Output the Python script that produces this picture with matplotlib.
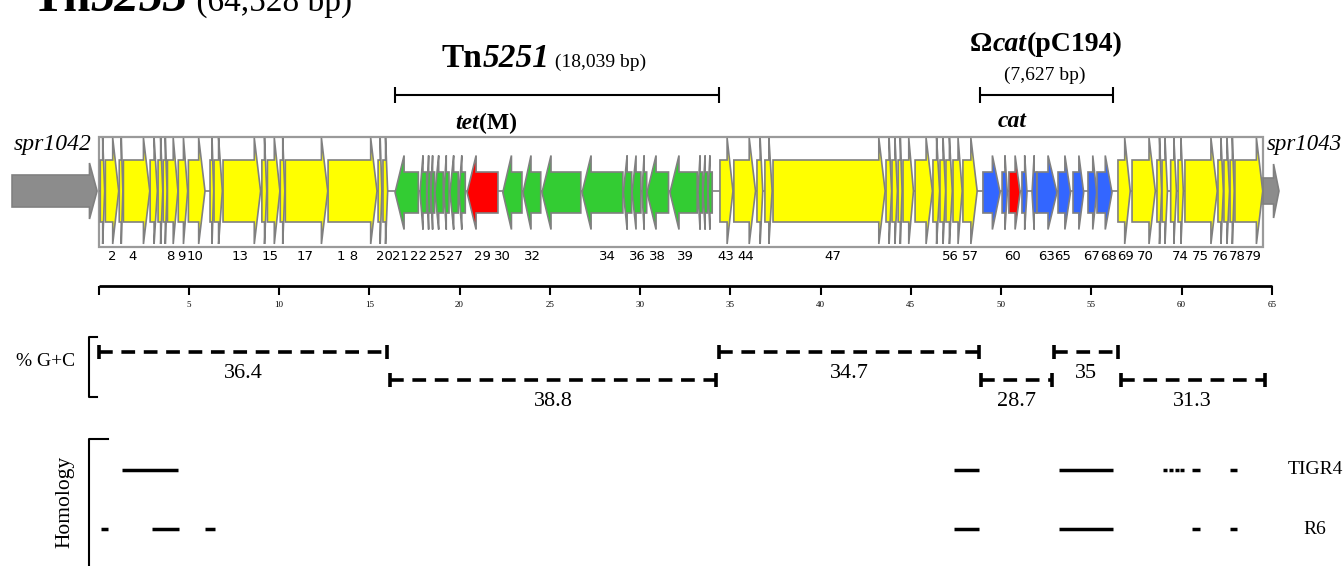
import matplotlib
matplotlib.use("Agg")
import matplotlib.pyplot as plt
from matplotlib.patches import Polygon, Rectangle

# ---- data (positions in kb along Tn5253) ----
tn_length = 64.528

gene_start = [0.10, 0.38, 1.15, 1.38, 2.86, 3.30, 3.58, 3.82, 4.42, 4.98,
              6.18, 6.40, 6.90, 9.05, 9.36, 10.07, 10.35, 12.72, 15.49, 15.76,
              16.43, 17.81, 18.20, 18.42, 18.64, 19.14, 19.47, 19.97, 20.42, 22.40,
              23.52, 24.57, 26.79, 29.08, 29.56, 30.11, 30.39, 31.66, 33.21, 33.49,
              33.77, 34.43, 35.20, 36.48, 36.92, 37.37, 43.63, 43.96, 44.30, 44.57,
              45.24, 46.23, 46.62, 46.95, 47.34, 47.89, 49.00, 50.06, 50.44, 51.16,
              51.72, 52.00, 53.16, 53.99, 54.82, 55.32, 56.48, 57.26, 58.64, 58.92,
              59.40, 59.81, 60.19, 62.02, 62.35, 62.69, 62.96]
gene_end = [0.34, 1.12, 1.35, 2.84, 3.26, 3.56, 3.80, 4.40, 4.94, 5.90,
            6.38, 6.86, 8.98, 9.32, 10.05, 10.32, 12.70, 15.43, 15.70, 16.02,
            17.72, 18.18, 18.40, 18.62, 19.10, 19.42, 19.93, 20.32, 22.13, 23.46,
            24.50, 26.72, 29.05, 29.54, 30.05, 30.37, 31.58, 33.17, 33.47, 33.75,
            34.00, 35.15, 36.40, 36.80, 37.32, 43.58, 43.94, 44.26, 44.52, 45.15,
            46.20, 46.60, 46.93, 47.30, 47.85, 48.68, 49.95, 50.35, 51.06, 51.44,
            51.98, 53.10, 53.85, 54.58, 55.30, 56.15, 57.16, 58.55, 58.90, 59.22,
            59.72, 60.10, 61.98, 62.32, 62.66, 62.92, 64.50]
gene_strand = [1] * 20 + [-1] * 21 + [1] * 15 + [1, 1, 1, 1, -1, 1, 1, 1, 1, 1] + [1] * 11
gene_group = (["core"] * 20 + ["tn5251"] * 8 + ["res"] + ["tn5251"] * 12
              + ["core"] * 15 + ["omega", "omega", "res"] + ["omega"] * 7 + ["core"] * 11)

label_text = ["2", "4", "8", "9", "10", "13", "15", "17", "1 8", "20", "21", "22", "25",
              "27", "29", "30", "32", "34", "36", "38", "39", "43", "44", "47", "56",
              "57", "60", "63", "65", "67", "68", "69", "70", "74", "75", "76", "78", "79"]
label_pos = [0.75, 1.91, 3.96, 4.57, 5.35, 7.84, 9.5, 11.44, 13.82, 15.82, 16.75, 17.75, 18.8,
             19.75, 21.25, 22.36, 24.07, 28.17, 29.83, 30.99, 32.5, 34.76, 35.87, 40.69, 47.17,
             48.28, 50.61, 52.55, 53.43, 55.0, 55.95, 56.9, 57.98, 59.92, 61.02, 62.13, 63.07, 63.96]

gc_start = [0.0, 16.15, 34.35, 48.9, 52.95, 56.65]
gc_end = [16.0, 34.2, 48.8, 52.85, 56.5, 64.6]
gc_value = ["36.4", "38.8", "34.7", "28.7", "35", "31.3"]
gc_row = [0, 1, 0, 1, 0, 1]

hom_strains = ["TIGR4", "R6"]
hom_tigr4 = [(1.3, 4.4), (47.4, 48.8), (53.2, 56.2), (58.98, 59.2), (59.3, 59.52),
             (59.62, 59.84), (59.94, 60.16), (60.58, 61.02), (62.69, 63.07)]
hom_r6 = [(0.14, 0.5), (2.96, 4.46), (5.9, 6.45), (47.4, 48.8), (53.2, 56.2),
          (60.58, 61.02), (62.69, 63.07)]

ruler_ticks = list(range(0, 66, 5))

# ---- figure ----
serif = "Liberation Serif"
narrow = ["Liberation Sans Narrow", "DejaVu Sans"]
fills = {"core": "#ffff00", "tn5251": "#33cc33", "res": "#ff0000", "omega": "#3366ff"}
edge = "#808080"

fig = plt.figure(figsize=(13.44, 5.66), dpi=100)
ax = fig.add_axes([0, 0, 1, 1])
pxkb = 18.05
x0 = -98.5 / pxkb
ax.set_xlim(x0, x0 + 1344 / pxkb)
ax.set_ylim(566, 0)
ax.axis("off")


def arrow(s, e, strand, yc, bh, hh, hl, fc):
    hl = min(hl, 0.45 * (e - s))
    if strand > 0:
        pts = [(s, yc - bh), (e - hl, yc - bh), (e - hl, yc - hh), (e, yc),
               (e - hl, yc + hh), (e - hl, yc + bh), (s, yc + bh)]
    else:
        pts = [(e, yc - bh), (s + hl, yc - bh), (s + hl, yc - hh), (s, yc),
               (s + hl, yc + hh), (s + hl, yc + bh), (e, yc + bh)]
    ax.add_patch(Polygon(pts, closed=True, fc=fc, ec=edge, lw=1.2, joinstyle="miter", zorder=3))


def pieces(x, y, parts, ha="left"):
    r = fig.canvas.get_renderer()
    ts = [ax.text(x, y, s, va="baseline", ha="left", family=serif, **kw) for s, kw in parts]
    ws = [t.get_window_extent(r).width / pxkb for t in ts]
    cur = x - sum(ws) / 2 if ha == "center" else x
    for t, w in zip(ts, ws):
        t.set_x(cur)
        cur += w


# backbone, box and flanking genes
ax.hlines(191, 0, tn_length, color=edge, lw=1.2, zorder=2)
ax.add_patch(Rectangle((0, 137), tn_length, 110, fill=False, ec="#9a9a9a", lw=1.6, zorder=1))
arrow(-4.79, -0.08, 1, 191, 16, 28, 0.42, "#8c8c8c")
arrow(64.52, 65.4, 1, 191, 13, 27, 0.3, "#8c8c8c")

for s, e, st, g in zip(gene_start, gene_end, gene_strand, gene_group):
    if g == "core":
        arrow(s, e, st, 191, 31, 53, 0.35, fills[g])
    else:
        arrow(s, e, st, 192.5, 20.5, 37, 0.5, fills[g])

for t, p in zip(label_text, label_pos):
    ax.text(p, 256, t, ha="center", va="center", fontsize=9.5, family=narrow)

ax.text(-4.68, 150, "spr1042", style="italic", family=serif, fontsize=17, va="baseline")
ax.text(64.72, 150, "spr1043", style="italic", family=serif, fontsize=16.5, va="baseline")

# titles
pieces(-3.75, 11, [("Tn", dict(fontsize=35, weight="bold")),
                   ("5253", dict(fontsize=35, weight="bold", style="italic")),
                   (" (64,528 bp)", dict(fontsize=24))])
pieces(19.03, 67, [("Tn", dict(fontsize=24, weight="bold")),
                   ("5251", dict(fontsize=24, weight="bold", style="italic")),
                   (" (18,039 bp)", dict(fontsize=14))])
pieces(52.5, 51, [("\u03a9", dict(fontsize=20, weight="bold")),
                  ("cat", dict(fontsize=20, weight="bold", style="italic")),
                  ("(pC194)", dict(fontsize=20, weight="bold"))], ha="center")
pieces(52.45, 80, [("(7,627 bp)", dict(fontsize=14))], ha="center")
pieces(21.5, 129, [("tet", dict(fontsize=17, weight="bold", style="italic")),
                   ("(M)", dict(fontsize=17, weight="bold"))], ha="center")
pieces(50.6, 127, [("cat", dict(fontsize=17, weight="bold", style="italic"))], ha="center")

for a, b in [(16.43, 34.35), (48.84, 56.2)]:
    ax.hlines(95, a, b, color="black", lw=1.5)
    ax.vlines([a, b], 87, 103, color="black", lw=1.5)

# ruler
ax.hlines(286, 0, 65, color="black", lw=2)
ax.vlines(ruler_ticks, 286, 295, color="black", lw=1.5)
for t in ruler_ticks[1:]:
    ax.text(t, 305, str(t), ha="center", va="center", family=serif, fontsize=6.5)

# % G+C
ax.plot([-0.1, -0.53, -0.53, -0.1], [337, 337, 397, 397], color="black", lw=1.5)
ax.text(-2.95, 361, "% G+C", ha="center", va="center", family=serif, fontsize=14)
for s, e, v, r in zip(gc_start, gc_end, gc_value, gc_row):
    y = 352 + 28 * r
    ax.hlines(y, s, e, color="black", lw=2.6, linestyles=(0, (3.8, 2.4)))
    ax.vlines([s, e], y - 7, y + 7, color="black", lw=2.6)
    ax.text((s + e) / 2, y + 21, v, ha="center", va="center", family=serif, fontsize=16)

# homology
ax.plot([0.5, -0.53, -0.53], [439, 439, 570], color="black", lw=1.5)
ax.text(-1.86, 502, "Homology", rotation=90, ha="center", va="center", family=serif, fontsize=15.5)
for name, segs, y in zip(hom_strains, [hom_tigr4, hom_r6], [470, 529]):
    for a, b in segs:
        ax.hlines(y, a, b, color="black", lw=2.5)
    ax.text(67.4, y, name, ha="center", va="center", family=serif, fontsize=14)

fig.savefig("out.png", dpi=100)
